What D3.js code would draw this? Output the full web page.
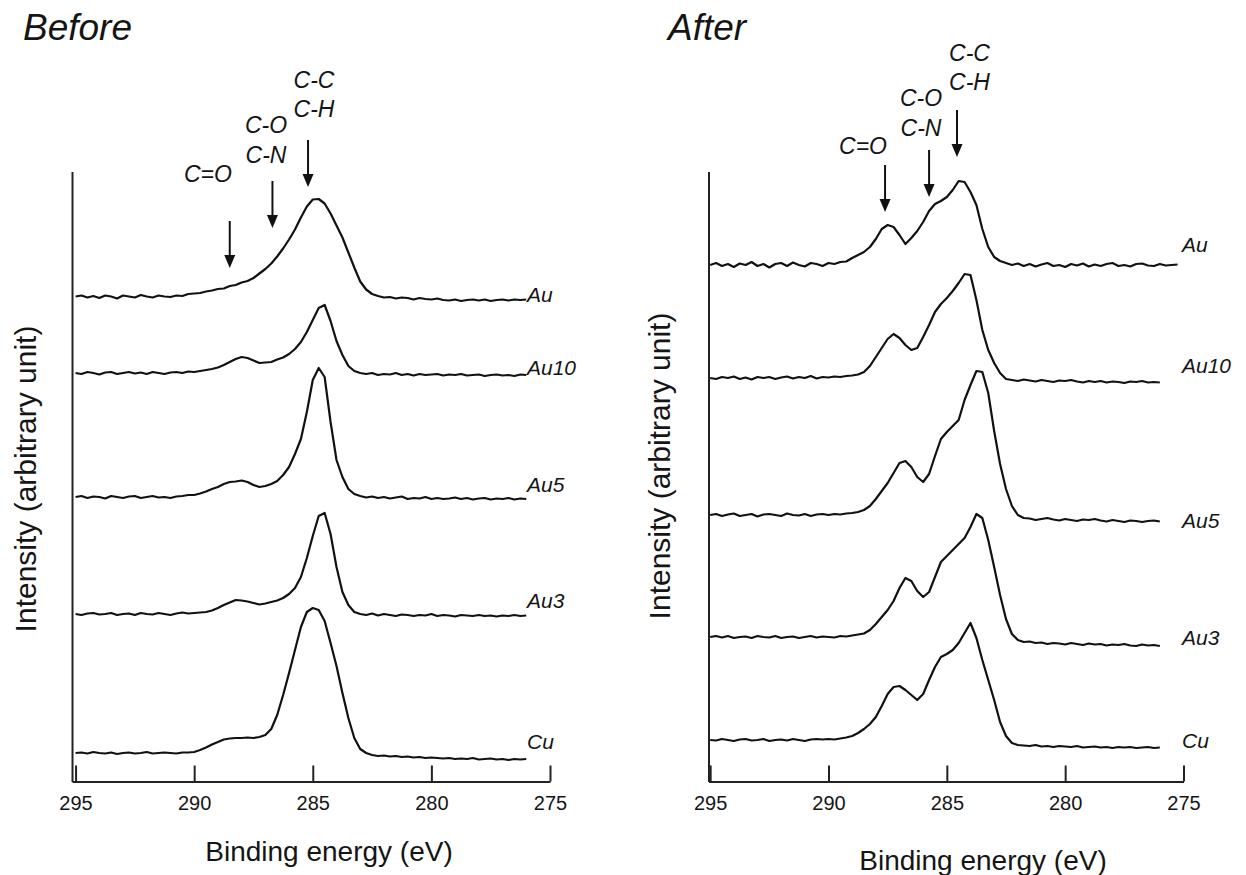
<!DOCTYPE html>
<html>
<head>
<meta charset="utf-8">
<script src="https://cdn.jsdelivr.net/npm/d3@7"></script>
<style>
  body { margin: 0; background: #fff; }
  text { font-family: "Liberation Sans", Arial, sans-serif; fill: #151515; }
</style>
</head>
<body>
<div id="chart"></div>
<script>

// binding energy grid (eV) at 0.25 eV steps
const energy = [295, 294.75, 294.5, 294.25, 294, 293.75, 293.5, 293.25, 293, 292.75,
  292.5, 292.25, 292, 291.75, 291.5, 291.25, 291, 290.75, 290.5, 290.25,
  290, 289.75, 289.5, 289.25, 289, 288.75, 288.5, 288.25, 288, 287.75,
  287.5, 287.25, 287, 286.75, 286.5, 286.25, 286, 285.75, 285.5, 285.25,
  285, 284.75, 284.5, 284.25, 284, 283.75, 283.5, 283.25, 283, 282.75,
  282.5, 282.25, 282, 281.75, 281.5, 281.25, 281, 280.75, 280.5, 280.25,
  280, 279.75, 279.5, 279.25, 279, 278.75, 278.5, 278.25, 278, 277.75,
  277.5, 277.25, 277, 276.75, 276.5, 276.25, 276, 275.75, 275.5, 275.25];

const samples = ["Au", "Au10", "Au5", "Au3", "Cu"];
const xTicks = [295, 290, 285, 280, 275];

// ---- Before ----
const beforeAu = [0.0, 0.1, -0.1, 0.05, -0.15, 0.1, 0.0, -0.2, 0.1, 0.0,
  -0.1, 0.15, 0.0, -0.1, 0.1, 0.0, -0.05, 0.1, 0.05, 0.25,
  0.3, 0.35, 0.5, 0.6, 0.75, 0.8, 1.05, 1.15, 1.4, 1.55,
  1.85, 2.3, 2.75, 3.3, 4.0, 4.8, 5.7, 6.7, 7.9, 9.0,
  9.7, 9.75, 9.3, 8.3, 7.1, 5.9, 4.4, 2.9, 1.5, 0.7,
  0.25, 0.05, -0.1, -0.05, -0.2, -0.1, -0.15, -0.3, -0.15, -0.25,
  -0.3, -0.2, -0.35, -0.4, -0.3, -0.45, -0.35, -0.3, -0.4, -0.3,
  -0.45, -0.35, -0.3, -0.4, -0.3, -0.35, -0.3];
const beforeAu10 = [0, -0.1, 0.1, 0, -0.15, 0.05, 0.1, -0.1, 0, 0.1,
  -0.05, 0.05, -0.1, 0.1, 0, -0.1, 0.05, 0.1, 0, 0.15,
  0.1, 0.2, 0.3, 0.4, 0.55, 0.8, 1.1, 1.4, 1.6, 1.5,
  1.25, 1.0, 1.05, 1.1, 1.35, 1.55, 1.9, 2.4, 3.1, 4.1,
  5.3, 6.5, 6.8, 5.2, 3.2, 1.8, 0.7, 0.2, 0.0, -0.1,
  0.0, -0.2, -0.1, -0.15, 0, -0.2, -0.1, -0.25, -0.1, -0.2,
  -0.15, -0.1, -0.25, -0.15, -0.2, -0.1, -0.25, -0.2, -0.15, -0.3,
  -0.2, -0.15, -0.25, -0.2, -0.3, -0.15, -0.2];
const beforeAu5 = [0, 0.1, -0.1, 0.05, 0, -0.15, 0.1, 0, -0.1, 0.05,
  0.1, -0.1, 0, 0.1, -0.05, 0, -0.1, 0.05, 0.1, 0.2,
  0.2, 0.35, 0.55, 0.8, 1.0, 1.3, 1.5, 1.55, 1.65, 1.5,
  1.2, 1.0, 1.1, 1.3, 1.6, 2.2, 3.0, 4.3, 5.8, 8.5,
  11.7, 12.9, 12.0, 7.5, 3.7, 2.0, 0.8, 0.3, 0.1, -0.05,
  0.05, -0.1, 0, -0.15, -0.05, 0.05, -0.2, -0.1, -0.15, 0,
  -0.2, -0.1, -0.2, -0.15, -0.05, -0.2, -0.1, -0.25, -0.15, -0.1,
  -0.25, -0.15, -0.2, -0.1, -0.25, -0.15, -0.2];
const beforeAu3 = [0, -0.1, 0.05, 0.1, -0.05, 0, 0.1, -0.1, 0, 0.05,
  -0.1, 0.1, 0, -0.05, 0.1, 0, -0.1, 0.05, 0.15, 0.05,
  0.1, 0.15, 0.2, 0.35, 0.6, 0.9, 1.15, 1.4, 1.35, 1.25,
  1.1, 0.95, 1.05, 1.2, 1.35, 1.6, 2.0, 2.6, 3.7, 5.6,
  7.8, 9.8, 10.1, 8.0, 4.7, 2.2, 0.9, 0.2, 0.0, -0.1,
  0.05, -0.15, 0, -0.1, -0.2, -0.05, -0.1, -0.2, -0.1, -0.15,
  0, -0.2, -0.1, -0.15, -0.25, -0.1, -0.15, -0.2, -0.1, -0.2,
  -0.15, -0.25, -0.15, -0.2, -0.1, -0.2, -0.15];
const beforeCu = [0, 0.05, -0.05, 0.1, 0, -0.05, 0.05, -0.1, 0, 0.05,
  -0.05, 0, 0.1, -0.05, 0, 0.05, 0, -0.05, 0.05, 0.05,
  0.1, 0.3, 0.55, 0.85, 1.1, 1.35, 1.45, 1.5, 1.5, 1.55,
  1.5, 1.6, 1.8, 2.4, 3.8, 5.8, 8.0, 10.3, 12.6, 14.1,
  14.5, 14.3, 13.2, 11.0, 8.7, 6.0, 3.5, 1.5, 0.4, 0.0,
  -0.2, -0.3, -0.25, -0.35, -0.3, -0.4, -0.35, -0.45, -0.4, -0.5,
  -0.45, -0.5, -0.55, -0.5, -0.6, -0.55, -0.6, -0.5, -0.65, -0.6,
  -0.55, -0.65, -0.6, -0.7, -0.6, -0.65, -0.6];
const beforeOffsets = [48.5, 40.85, 28.45, 16.75, 2.85];

// ---- After ----
const afterAu = [0, 0.2, -0.1, 0.1, -0.2, 0.15, 0, 0.3, -0.1, 0.1,
  -0.25, 0.1, 0.2, -0.1, 0.25, 0, -0.15, 0.2, 0.1, -0.1,
  0.2, 0.1, 0.3, 0.35, 0.7, 1.0, 1.3, 1.8, 2.6, 3.6,
  4.0, 3.8, 3.0, 2.1, 2.7, 3.4, 4.3, 5.4, 6.1, 6.4,
  6.8, 7.5, 8.4, 8.3, 7.3, 6.0, 3.6, 1.8, 0.8, 0.4,
  0.2, 0.0, 0.15, -0.1, 0.1, -0.15, 0.05, 0.2, -0.1, 0.0,
  -0.2, 0.1, -0.05, 0.15, -0.15, 0.05, -0.1, 0.1, 0.2, -0.1,
  0.0, -0.15, 0.1, 0.15, -0.05, -0.1, 0.1, -0.05, 0.0, 0.05];
const afterAu10 = [0, -0.1, 0.1, 0, 0.15, -0.1, 0.05, -0.15, 0.1, 0,
  0.1, -0.1, 0.05, 0.15, -0.05, 0.1, 0, 0.2, -0.05, 0.1,
  0.05, 0.15, 0.1, 0.2, 0.25, 0.35, 0.6, 1.2, 2.1, 3.0,
  3.9, 4.4, 4.0, 3.3, 2.8, 3.0, 4.1, 5.3, 6.6, 7.4,
  8.0, 8.7, 9.5, 10.4, 10.3, 7.8, 4.8, 2.8, 1.5, 0.5,
  -0.1, -0.2, -0.3, -0.15, -0.25, -0.35, -0.2, -0.3, -0.4, -0.25,
  -0.3, -0.2, -0.35, -0.45, -0.3, -0.4, -0.3, -0.45, -0.35, -0.4,
  -0.5, -0.35, -0.4, -0.3, -0.45, -0.4, -0.45];
const afterAu5 = [0, 0.1, -0.1, 0.05, 0.15, -0.1, 0, 0.1, -0.15, 0.05,
  0.1, 0, -0.1, 0.15, 0, -0.05, 0.1, -0.1, 0.05, 0.1,
  0.0, 0.1, 0.05, 0.15, 0.2, 0.3, 0.5, 0.9, 1.6, 2.4,
  3.2, 4.2, 5.2, 5.4, 4.8, 3.8, 3.3, 4.1, 5.9, 7.6,
  8.3, 8.9, 9.5, 11.5, 13.0, 14.4, 14.3, 12.2, 8.4, 5.1,
  2.6, 0.9, 0.0, -0.3, -0.35, -0.5, -0.4, -0.3, -0.45, -0.55,
  -0.4, -0.5, -0.6, -0.45, -0.5, -0.4, -0.55, -0.65, -0.5, -0.6,
  -0.7, -0.55, -0.6, -0.7, -0.6, -0.55, -0.65];
const afterAu3 = [0, 0.1, -0.05, 0.1, -0.1, 0, 0.05, -0.1, 0.1, 0,
  -0.05, 0.1, -0.1, 0, 0.05, -0.1, 0, 0.1, -0.05, 0.05,
  0.0, -0.05, 0.1, 0.05, 0.15, 0.25, 0.35, 0.7, 1.3, 2.0,
  2.7, 3.6, 4.9, 5.9, 5.6, 4.6, 4.0, 4.5, 6.0, 7.5,
  8.1, 8.7, 9.3, 9.9, 11.0, 12.3, 11.9, 9.7, 7.0, 4.2,
  1.8, 0.3, -0.3, -0.5, -0.45, -0.6, -0.55, -0.7, -0.6, -0.65,
  -0.75, -0.6, -0.7, -0.8, -0.65, -0.75, -0.7, -0.85, -0.75, -0.8,
  -0.7, -0.85, -0.9, -0.75, -0.85, -0.8, -0.9];
const afterCu = [0, -0.05, 0.1, 0, -0.1, 0.05, 0.1, -0.05, 0, 0.1,
  -0.1, 0, 0.05, -0.05, 0.1, 0, -0.1, 0.05, 0.1, 0.05,
  0.1, 0.05, 0.15, 0.25, 0.4, 0.7, 1.1, 1.6, 2.3, 3.4,
  4.6, 5.3, 5.4, 5.0, 4.5, 4.0, 4.6, 6.0, 7.3, 8.3,
  8.6, 9.0, 9.7, 10.7, 11.7, 10.2, 8.0, 6.0, 4.0, 1.8,
  0.4, -0.3, -0.5, -0.55, -0.6, -0.5, -0.65, -0.6, -0.7, -0.6,
  -0.65, -0.7, -0.6, -0.75, -0.7, -0.65, -0.75, -0.7, -0.8, -0.7,
  -0.75, -0.7, -0.8, -0.75, -0.7, -0.8, -0.75];
const afterOffsets = [51.65, 40.35, 26.65, 14.45, 4.15];

// peak assignments: arrow energy, arrow tip level, label energy, label levels
const beforeArrows = [
  {lines: ["C=O"], at: 288.5, tip: 51.35, textAt: 289.42, levels: [59.95]},
  {lines: ["C-O", "C-N"], at: 286.7, tip: 55.35, textAt: 286.97, levels: [64.85, 61.85]},
  {lines: ["C-C", "C-H"], at: 285.2, tip: 59.45, textAt: 284.95, levels: [69.35, 66.45]}
];
const afterArrows = [
  {lines: ["C=O"], at: 287.61, tip: 56.95, textAt: 288.54, levels: [62.75]},
  {lines: ["C-O", "C-N"], at: 285.75, tip: 58.45, textAt: 286.09, levels: [67.55, 64.55]},
  {lines: ["C-C", "C-H"], at: 284.57, tip: 62.45, textAt: 284.04, levels: [72.05, 69.15]}
];

const svg = d3.select("#chart")
  .append("svg")
  .attr("width", 1246)
  .attr("height", 875)
  .style("background-color", "white");

// shared intensity scale (arbitrary units)
const yScale = d3.scaleLinear().domain([0, 61]).range([781.5, 171.5]);

const panels = [
  {title: "Before", titleX: 23, range: [72, 550], domain: [295.15, 275],
   spectra: [beforeAu, beforeAu10, beforeAu5, beforeAu3, beforeCu], offsets: beforeOffsets,
   arrows: beforeArrows, labelX: 527, labelNudge: [2, 0, -7, -8, -10],
   xTitle: [329, 861], yTitle: [36, 479]},
  {title: "After", titleX: 668, range: [708.5, 1183.5], domain: [295.07, 275],
   spectra: [afterAu, afterAu10, afterAu5, afterAu3, afterCu], offsets: afterOffsets,
   arrows: afterArrows, labelX: 1182, labelNudge: [-13, -10, 6, -1, 0],
   xTitle: [983, 870], yTitle: [670, 466]}
];

panels.forEach(function(p) {
  var g = svg.append("g");
  var xScale = d3.scaleLinear().domain(p.domain).range(p.range);

  // title
  g.append("text")
    .attr("x", p.titleX).attr("y", 40)
    .style("font-size", "37px").style("font-style", "italic")
    .text(p.title);

  // x axis with inward ticks
  var xAxis = g.append("g")
    .attr("transform", "translate(0," + yScale(0) + ")")
    .call(d3.axisBottom(xScale).tickValues(xTicks).tickSizeInner(-16).tickSizeOuter(0).tickPadding(14));
  xAxis.selectAll("path, line").attr("stroke", "#222").attr("stroke-width", 2);
  xAxis.selectAll("text")
    .style("font-size", "20px")
    .style("font-family", "'Liberation Sans', Arial, sans-serif")
    .attr("fill", "#151515");

  // bare y axis line
  var yAxis = g.append("g")
    .attr("transform", "translate(" + p.range[0] + ",0)")
    .call(d3.axisLeft(yScale).tickValues([]).tickSizeOuter(0));
  yAxis.select("path").attr("stroke", "#222").attr("stroke-width", 2);

  // axis titles
  g.append("text")
    .attr("x", p.xTitle[0]).attr("y", p.xTitle[1])
    .attr("text-anchor", "middle")
    .style("font-size", "28px")
    .text("Binding energy (eV)");
  g.append("text")
    .attr("transform", "translate(" + p.yTitle[0] + "," + p.yTitle[1] + ") rotate(-90)")
    .attr("text-anchor", "middle")
    .style("font-size", "30px")
    .text("Intensity (arbitrary unit)");

  // spectra, stacked with offsets
  p.spectra.forEach(function(vals, k) {
    var pts = vals.map(function(v, i) { return [energy[i], v + p.offsets[k]]; });
    g.append("path")
      .datum(pts)
      .attr("fill", "none")
      .attr("stroke", "#111")
      .attr("stroke-width", 2.2)
      .attr("stroke-linejoin", "round")
      .attr("d", d3.line()
        .x(function(d) { return xScale(d[0]); })
        .y(function(d) { return yScale(d[1]); }));

    var last = pts[pts.length - 1];
    g.append("text")
      .attr("x", p.labelX)
      .attr("y", yScale(last[1]) + p.labelNudge[k])
      .style("font-size", "21px").style("font-style", "italic")
      .text(samples[k]);
  });

  // arrows with assignments
  p.arrows.forEach(function(a) {
    var ax = xScale(a.at), tipY = yScale(a.tip), topY = yScale(a.tip + 4.7);
    g.append("line")
      .attr("x1", ax).attr("x2", ax)
      .attr("y1", topY).attr("y2", tipY - 10)
      .attr("stroke", "#111").attr("stroke-width", 2);
    g.append("path")
      .attr("d", "M" + (ax - 5.5) + "," + (tipY - 13) + "L" + (ax + 5.5) + "," + (tipY - 13) + "L" + ax + "," + tipY + "Z")
      .attr("fill", "#111");
    a.lines.forEach(function(t, j) {
      g.append("text")
        .attr("x", xScale(a.textAt))
        .attr("y", yScale(a.levels[j]))
        .attr("text-anchor", "middle")
        .style("font-size", "23px").style("font-style", "italic")
        .text(t);
    });
  });
});

</script>
</body>
</html>
